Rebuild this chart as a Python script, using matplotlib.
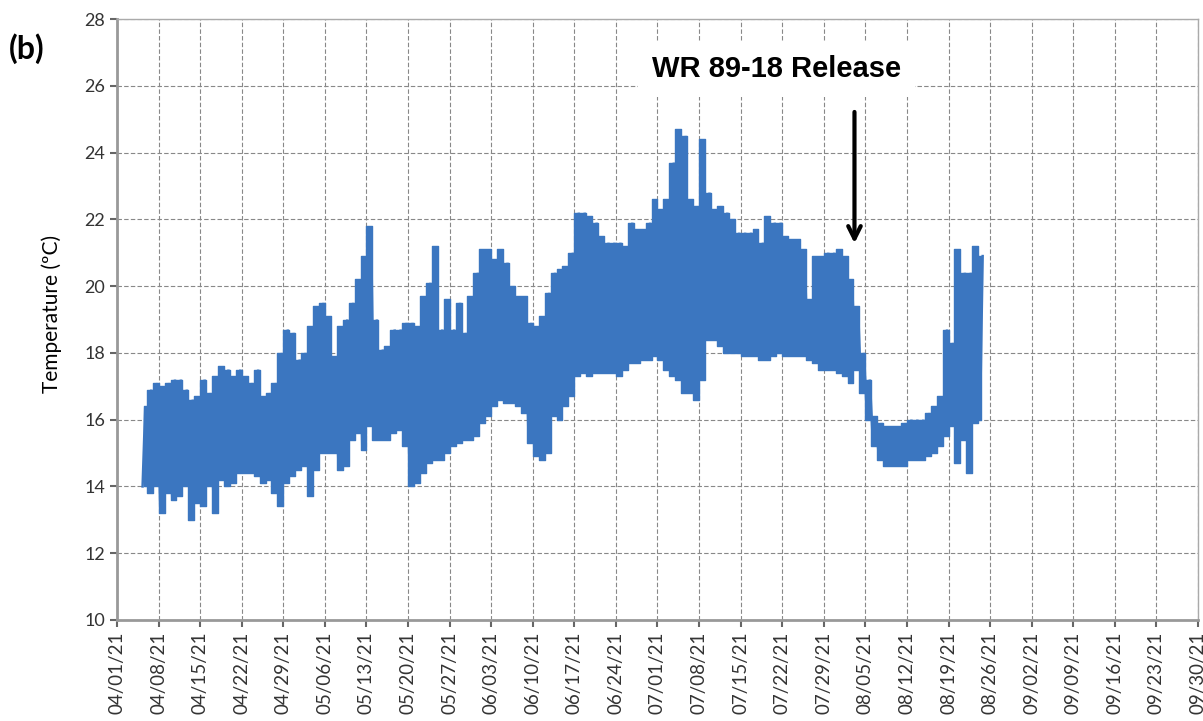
import matplotlib
matplotlib.use('Agg')
import matplotlib.pyplot as plt
import matplotlib.dates as mdates
import numpy as np
import datetime

# daily water temperature range, one value per day starting 04/05/21
first_day = datetime.date(2021, 4, 5)

daily_max = [16.4, 16.9, 17.1, 17.0, 17.1, 17.2, 17.2, 16.9, 16.6, 16.7,
             17.2, 16.8, 17.3, 17.6, 17.5, 17.3, 17.5, 17.3, 17.1, 17.5,
             16.7, 16.8, 17.1, 18.0, 18.7, 18.6, 17.8, 18.0, 18.8, 19.4,
             19.5, 19.1, 17.9, 18.8, 19.0, 19.5, 20.2, 20.9, 21.8, 19.0,
             18.1, 18.2, 18.7, 18.7, 18.9, 18.9, 18.8, 19.7, 20.1, 21.2,
             18.7, 19.6, 18.7, 19.5, 18.6, 19.7, 20.4, 21.1, 21.1, 20.8,
             21.1, 20.7, 20.0, 19.7, 19.7, 18.9, 18.8, 19.1, 19.8, 20.4,
             20.5, 20.6, 21.0, 22.2, 22.2, 22.1, 21.9, 21.5, 21.3, 21.3,
             21.3, 21.2, 21.9, 21.7, 21.7, 21.9, 22.6, 22.3, 22.6, 23.7,
             24.7, 24.5, 22.6, 22.4, 24.4, 22.8, 22.3, 22.4, 22.2, 22.0,
             21.6, 21.6, 21.6, 21.7, 21.3, 22.1, 21.9, 21.9, 21.5, 21.4,
             21.4, 21.1, 19.6, 20.9, 20.9, 21.0, 21.0, 21.1, 20.9, 20.2,
             19.4, 18.0, 17.2, 16.1, 15.9, 15.8, 15.8, 15.8, 15.9, 16.0,
             16.0, 16.0, 16.2, 16.4, 16.7, 18.7, 18.3, 21.1, 20.4, 20.4,
             21.2, 20.9]

daily_min = [14.0, 13.8, 14.0, 13.2, 13.8, 13.6, 13.7, 14.0, 13.0, 13.5,
             13.4, 14.0, 13.2, 14.2, 14.0, 14.1, 14.4, 14.4, 14.4, 14.3,
             14.1, 14.2, 13.8, 13.4, 14.1, 14.3, 14.5, 14.6, 13.7, 14.5,
             15.0, 15.0, 15.0, 14.5, 14.6, 15.4, 15.6, 15.1, 15.8, 15.4,
             15.4, 15.4, 15.6, 15.7, 15.2, 14.0, 14.1, 14.4, 14.7, 14.8,
             14.8, 15.0, 15.2, 15.3, 15.4, 15.4, 15.5, 15.9, 16.1, 16.4,
             16.6, 16.5, 16.5, 16.4, 16.2, 15.3, 14.9, 14.8, 15.0, 16.1,
             16.0, 16.4, 16.7, 17.3, 17.4, 17.3, 17.4, 17.4, 17.4, 17.4,
             17.3, 17.5, 17.7, 17.7, 17.8, 17.8, 17.9, 17.8, 17.5, 17.3,
             17.2, 16.8, 16.8, 16.6, 17.2, 18.4, 18.4, 18.2, 18.0, 18.0,
             18.0, 17.9, 17.9, 17.9, 17.8, 17.8, 17.9, 18.0, 17.9, 17.9,
             17.9, 17.9, 17.8, 17.7, 17.5, 17.5, 17.5, 17.4, 17.3, 17.1,
             17.5, 16.8, 16.0, 15.2, 14.8, 14.6, 14.6, 14.6, 14.6, 14.8,
             14.8, 14.8, 14.9, 15.0, 15.2, 15.5, 15.8, 14.7, 15.4, 14.4,
             15.9, 16.0]

release_date = datetime.datetime(2021, 8, 3, 4)
release_label = 'WR 89-18 Release'

blue = '#3b76c0'

t0 = mdates.date2num(first_day)
days = t0 + np.arange(len(daily_max)) + 0.5

# zig-zag: morning low then afternoon high for every day
xs = []
ys = []
for i in range(len(daily_max)):
    xs.append(t0 + i + 0.3)
    ys.append(daily_min[i])
    xs.append(t0 + i + 0.75)
    ys.append(daily_max[i])

plt.rcParams['font.family'] = ['Lato', 'DejaVu Sans']
fig = plt.figure(figsize=(12.03, 7.21), dpi=100)
ax = fig.add_axes([0.0973, 0.1401, 0.8985, 0.8335])

ax.fill_between(days, daily_min, daily_max, step='mid', color=blue, lw=1.0,
                edgecolor=blue)
ax.plot(xs, ys, color=blue, lw=1.8, solid_joinstyle='miter')

ax.set_ylim(10, 28)
ax.set_yticks(np.arange(10, 29, 2))
ax.set_xlim(mdates.date2num(datetime.date(2021, 4, 1)),
            mdates.date2num(datetime.date(2021, 9, 30)))
ticks = [mdates.date2num(datetime.date(2021, 4, 1)) + 7 * k for k in range(27)]
ax.set_xticks(ticks)
ax.xaxis.set_major_formatter(mdates.DateFormatter('%m/%d/%y'))
plt.setp(ax.get_xticklabels(), rotation=90)
ax.tick_params(axis='x', labelsize=13.5, colors='#666666', length=5, width=1.5)
ax.tick_params(axis='y', labelsize=13, colors='#666666', length=5, width=1.5)
for lbl in ax.get_xticklabels() + ax.get_yticklabels():
    lbl.set_color('#333333')

ax.grid(True, color='#888888', ls=(0, (4, 2)), lw=0.8)
ax.set_axisbelow(True)
for s in ['left', 'bottom']:
    ax.spines[s].set_color('#999999')
    ax.spines[s].set_linewidth(2)
for s in ['top', 'right']:
    ax.spines[s].set_color('#aaaaaa')
    ax.spines[s].set_linewidth(1)

ax.set_ylabel('Temperature (ºC)', fontsize=15)
ax.yaxis.set_label_coords(-0.051, 0.51)

fig.text(0.007, 0.918, '(b)', fontsize=23, fontweight='bold')

ax.text(mdates.date2num(datetime.date(2021, 7, 21)), 26.5, release_label,
        ha='center', va='center', fontsize=21, fontweight='bold',
        family='Liberation Sans',
        bbox=dict(facecolor='white', edgecolor='none', pad=10))
ax.annotate('', xy=(mdates.date2num(release_date), 21.2),
            xytext=(mdates.date2num(release_date), 25.3),
            arrowprops=dict(arrowstyle='->,head_length=0.9,head_width=0.45',
                            color='black', lw=3))

plt.savefig('out.png', dpi=100)
